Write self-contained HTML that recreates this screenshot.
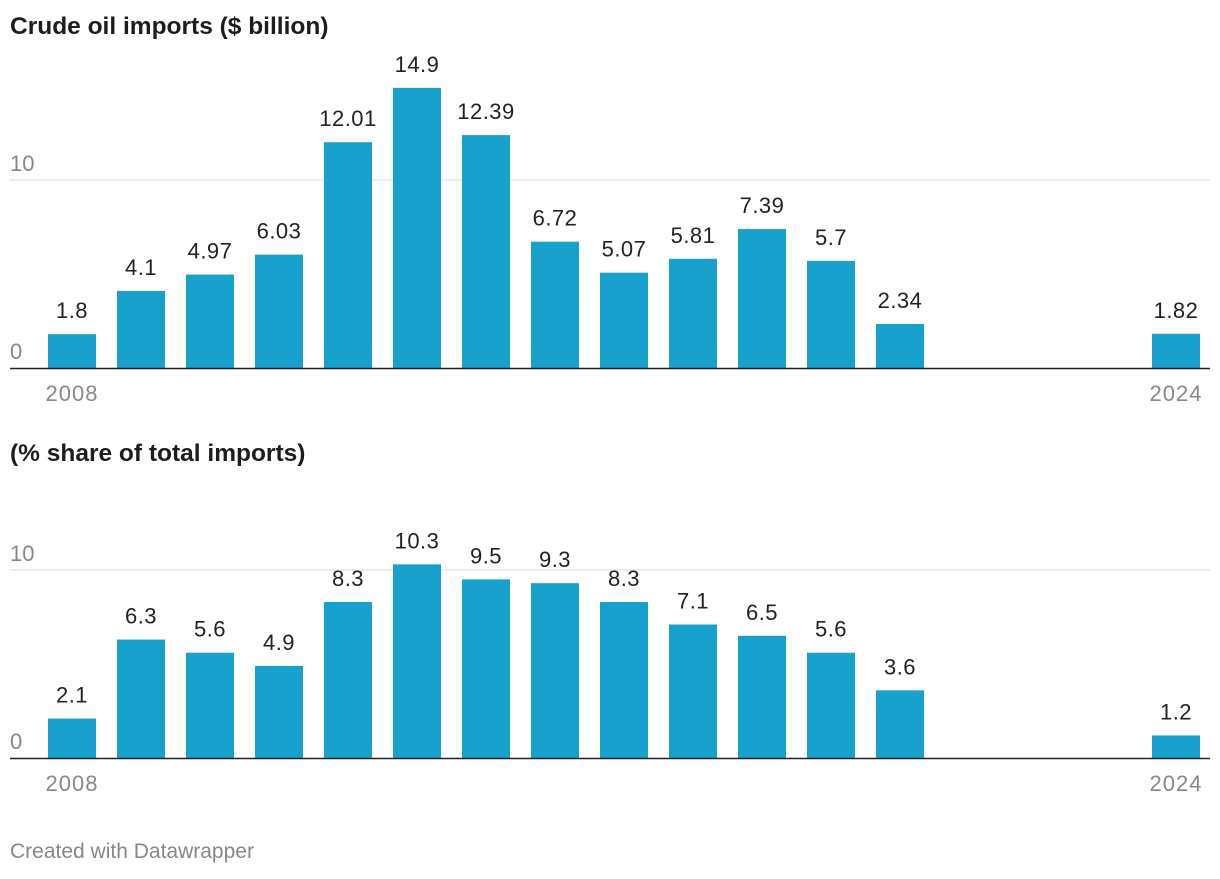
<!DOCTYPE html>
<html><head><meta charset="utf-8"><style>
body{margin:0;background:#fff;width:1220px;height:874px;overflow:hidden;font-family:"Liberation Sans",Arial,sans-serif}
svg text{font-family:"Liberation Sans",Arial,sans-serif}
</style></head><body>
<svg id="c" width="1220" height="874">
<text x="10" y="34" font-size="24.5" font-weight="bold" fill="#1d1d1d">Crude oil imports ($ billion)</text>
<text x="10" y="461" font-size="24.5" font-weight="bold" fill="#1d1d1d">(% share of total imports)</text>
<text x="10" y="858" font-size="21" fill="#888">Created with Datawrapper</text>
</svg>
<script>
const years=[2008,2009,2010,2011,2012,2013,2014,2015,2016,2017,2018,2019,2020,2024];
const valuesTop=[1.8,4.1,4.97,6.03,12.01,14.9,12.39,6.72,5.07,5.81,7.39,5.7,2.34,1.82];
const labelsTop=["1.8","4.1","4.97","6.03","12.01","14.9","12.39","6.72","5.07","5.81","7.39","5.7","2.34","1.82"];
const valuesBottom=[2.1,6.3,5.6,4.9,8.3,10.3,9.5,9.3,8.3,7.1,6.5,5.6,3.6,1.2];
const labelsBottom=["2.1","6.3","5.6","4.9","8.3","10.3","9.5","9.3","8.3","7.1","6.5","5.6","3.6","1.2"];
const ticks=[0,10];
const svg=document.getElementById('c');
const NS='http://www.w3.org/2000/svg';
function mk(t,a){const e=document.createElementNS(NS,t);for(const k in a)e.setAttribute(k,a[k]);svg.appendChild(e);return e;}
const xS=y=>48+(y-2008)*69;
function draw(base,vals,labs,pre){
  const yS=v=>base-v*18.8;
  ticks.forEach(t=>{
    if(t>0){const l=mk('line',{x1:10,x2:1210,y1:yS(t),y2:yS(t),stroke:'#ddd','stroke-width':1});
    
    }
    const tx=mk('text',{x:10,y:yS(t)-9,'font-size':22,fill:'#888'});tx.textContent=t;
    
    
  });
  vals.forEach((v,i)=>{
    const x=xS(years[i]);
    const r=mk('rect',{x:x,y:yS(v),width:48,height:v*18.8,fill:'#18a1cd'});
    
    
    const t=mk('text',{x:x+24,y:yS(v)-16,'font-size':22,fill:'#222','text-anchor':'middle','letter-spacing':0.5});t.textContent=labs[i];
    
    
  });
  const b=mk('line',{x1:10,x2:1210,y1:base+0.5,y2:base+0.5,stroke:'#222','stroke-width':1.5});
  
  
  [2008,2024].forEach(y=>{
    const t=mk('text',{x:xS(y)+24,y:base+33,'font-size':22,fill:'#888','text-anchor':'middle','letter-spacing':1});t.textContent=y;
    
    
  });
}
draw(368,valuesTop,labelsTop,'top');
draw(758,valuesBottom,labelsBottom,'bottom');
</script>
</body></html>
